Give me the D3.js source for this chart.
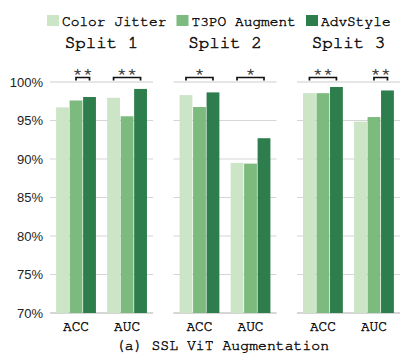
<!DOCTYPE html>
<html><head><meta charset="utf-8">
<script src="https://cdn.jsdelivr.net/npm/d3@7"></script>
<style>body{margin:0;background:#fff}
.mono{font-family:'Nimbus Mono PS','FreeMono','Courier New',Courier,'Liberation Mono',monospace;fill:#111;stroke:#111;stroke-width:0.45px}</style>
</head><body>
<svg id="c" width="407" height="362"></svg>
<script>
const splits = ["Split 1", "Split 2", "Split 3"];
const metrics = ["ACC", "AUC"];
const methods = ["Color Jitter", "T3PO Augment", "AdvStyle"];
const colors = ["#cbe5c6", "#7dba7e", "#2e7d4c"];
// values[split][metric][method]
const split1 = [[96.7, 97.6, 98.05], [97.95, 95.55, 99.1]];
const split2 = [[98.3, 96.75, 98.65], [89.5, 89.4, 92.7]];
const split3 = [[98.55, 98.55, 99.35], [94.85, 95.45, 98.9]];
const values = [split1, split2, split3];
// significance: [split, metric, fromMethod, toMethod, label]
const sig = [
  [0, 0, 1, 2, "**"], [0, 1, 0, 2, "**"],
  [1, 0, 0, 2, "*"], [1, 1, 0, 2, "*"],
  [2, 0, 0, 2, "**"], [2, 1, 1, 2, "**"]
];
const yTicks = [70, 75, 80, 85, 90, 95, 100];
const caption = "(a) SSL ViT Augmentation";

const svg = d3.select("#c");
const y = d3.scaleLinear().domain([70, 100]).range([313, 82]);
const panelX = d3.scaleBand().domain(splits).range([50, 400]).paddingInner(0.165).paddingOuter(0);

// y axis labels
svg.append("g").selectAll("text").data(yTicks).join("text")
  .attr("x", 43).attr("y", d => y(d)).attr("dy", "0.35em")
  .attr("text-anchor", "end").attr("font-family", "'Liberation Sans', Arial, sans-serif")
  .attr("font-size", 13).attr("fill", "#222").text(d => d + "%");

splits.forEach((s, si) => {
  const px = panelX(s), pw = panelX.bandwidth();
  const g = svg.append("g");
  const x0 = d3.scaleBand().domain(metrics).range([px, px + pw]).paddingInner(0.22).paddingOuter(0.12);
  const x1 = d3.scaleBand().domain(methods).range([0, x0.bandwidth()]).paddingInner(0.05);
  // grid
  g.selectAll("line.grid").data(yTicks).join("line")
    .attr("x1", px).attr("x2", px + pw)
    .attr("y1", d => y(d)).attr("y2", d => y(d))
    .attr("stroke", d => d === 100 ? "#e6e6e6" : "#d6d6d6")
    .attr("stroke-width", d => (d === 100 || d === 70) ? 2 : 1.2);
  // title
  g.append("text").attr("class", "mono").attr("x", px + pw / 2).attr("y", 48).attr("text-anchor", "middle")
    .attr("font-size", 17.5).style("stroke-width", "0.55px").text(s);
  metrics.forEach((m, mi) => {
    const gx = x0(m);
    g.selectAll("rect.b" + mi).data(values[si][mi]).join("rect")
      .attr("x", (d, k) => gx + x1(methods[k]))
      .attr("width", x1.bandwidth())
      .attr("y", d => y(d)).attr("height", d => y(70) - y(d))
      .attr("fill", (d, k) => colors[k]);
    g.append("text").attr("class", "mono").attr("x", gx + x0.bandwidth() / 2).attr("y", 331)
      .attr("text-anchor", "middle").attr("font-size", 14.5).text(m);
  });
  sig.filter(d => d[0] === si).forEach(([_, mi, a, b, lab]) => {
    const gx = x0(metrics[mi]);
    const xa = gx + x1(methods[a]) + x1.bandwidth() / 2;
    const xb = gx + x1(methods[b]) + x1.bandwidth() / 2;
    g.append("path").attr("d", `M${xa},80.5 V77.5 H${xb} V80.5`)
      .attr("fill", "none").attr("stroke", "#111").attr("stroke-width", 1.7);
    g.append("text").attr("class", "mono").attr("x", (xa + xb) / 2).attr("y", 78.5).attr("text-anchor", "middle")
      .attr("font-size", 17).style("fill", "#333").style("stroke", "#333").style("stroke-width", "0.35px").text(lab);
  });
});

// legend
const lx = [47, 176.5, 306];
const lg = svg.append("g");
methods.forEach((m, i) => {
  lg.append("rect").attr("x", lx[i]).attr("y", 15).attr("width", 12).attr("height", 11).attr("fill", colors[i]);
  lg.append("text").attr("class", "mono").attr("x", lx[i] + 15).attr("y", 25.5)
    .attr("font-size", 14.5).text(m);
});

svg.append("text").attr("class", "mono").attr("x", 222.5).attr("y", 350).attr("text-anchor", "middle")
  .attr("font-size", 14.8).text(caption);
</script>
</body></html>
